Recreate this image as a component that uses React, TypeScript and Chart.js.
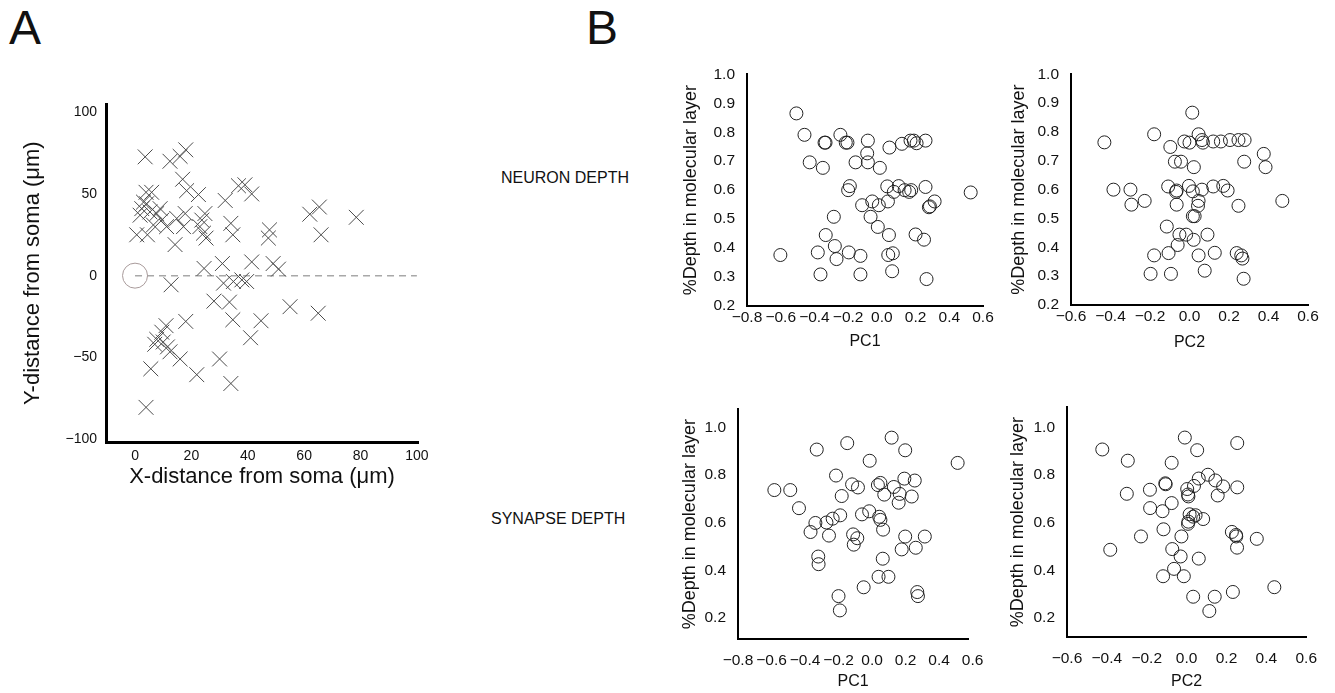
import React, { useEffect, useRef } from "react";
import { Chart, registerables } from "chart.js";

Chart.register(...registerables);

const FONT = "'Liberation Sans', Arial, Helvetica, sans-serif";

// ---------- Panel A: synapse positions relative to soma ----------
const crossX = [3.6, 12.4, 16, 18, 16.9, 18.3, 22.5, 3.9, 5.9, 3, 4.1, 2.4, 1.8, 32, 36.7, 39, 41.4, 62, 65.4, 78.5, 66, 47.7, 47.3, 34, 34.7, 0.6, 4.4, 7.7, 9.5, 11.2, 6.5, 14.8, 17.8, 17.2, 23, 24.8, 23.7, 24.3, 25.2, 14.2, 24.5, 31, 41.4, 49, 50.9, 12.8, 31.4, 34.9, 39.6, 37.9, 28, 33.5, 34.7, 44.7, 55, 65, 18, 41, 11, 9.5, 7.7, 7, 10, 11.5, 12.4, 16, 30, 21.9, 34, 5.6, 3.9, 8.9, 5.3];
const crossY = [72.7, 70, 73, 77, 59, 52, 49.6, 51, 51, 45, 44, 41, 37, 46, 55, 55.6, 50, 37.6, 42, 35.7, 25, 28, 23, 32, 25, 25, 25, 38, 34, 30, 31, 35, 38, 30, 30, 38, 34, 26, 23, 19, 4.4, 7.4, 8.4, 7.4, 4, -5.6, -4.6, -3.6, -3.6, -2.6, -15.6, -16.2, -27, -27.6, -19, -23, -28, -38, -30.6, -34.6, -39, -42, -40.6, -43.6, -46.6, -51, -51, -60.6, -66, -57, -80.6, 41, 39];
const somaX = [0];
const somaY = [0];
const midlineX = [0, 100];
const midlineY = [0, 0];
const aXTicks = [0, 20, 40, 60, 80, 100];
const aYTicks = [-100, -50, 0, 50, 100];

// ---------- Panel B: neuron depth ----------
const neuronPC1X = [-0.507, -0.459, -0.428, -0.35, -0.34, -0.334, -0.246, -0.214, -0.204, -0.083, -0.087, -0.083, -0.156, -0.012, 0.045, 0.119, 0.17, 0.19, 0.206, 0.259, -0.19, -0.2, 0.032, 0.1, 0.071, 0.135, 0.162, 0.174, 0.259, 0.527, 0.313, 0.279, 0.285, -0.057, -0.018, 0.036, -0.117, -0.285, -0.067, -0.024, 0.042, -0.333, 0.2, 0.25, -0.279, -0.269, -0.38, -0.196, -0.127, 0.038, 0.065, -0.602, -0.364, -0.127, 0.061, 0.265];
const neuronPC1Y = [0.865, 0.791, 0.696, 0.677, 0.764, 0.764, 0.791, 0.764, 0.764, 0.771, 0.727, 0.696, 0.696, 0.677, 0.747, 0.76, 0.771, 0.771, 0.762, 0.771, 0.614, 0.6, 0.613, 0.614, 0.594, 0.6, 0.594, 0.6, 0.611, 0.592, 0.561, 0.541, 0.544, 0.561, 0.548, 0.561, 0.548, 0.508, 0.508, 0.473, 0.445, 0.445, 0.447, 0.429, 0.407, 0.362, 0.385, 0.385, 0.373, 0.376, 0.382, 0.376, 0.309, 0.309, 0.32, 0.293];

const neuronPC2X = [0.014, -0.431, -0.179, -0.097, -0.026, 0, 0.046, 0.063, 0.068, 0.12, 0.159, 0.205, 0.248, 0.279, 0.376, 0.385, 0.277, -0.074, -0.043, 0.022, -0.385, -0.299, -0.227, -0.294, -0.108, -0.065, -0.068, -0.003, 0.017, 0.063, 0.12, 0.171, 0.193, -0.065, 0.046, 0.043, 0.248, 0.47, 0.017, 0.026, -0.115, -0.051, -0.017, 0.021, 0.091, -0.06, -0.179, -0.106, 0.046, 0.128, 0.239, 0.262, 0.268, -0.197, -0.094, 0.077, 0.274];
const neuronPC2Y = [0.867, 0.764, 0.792, 0.748, 0.767, 0.763, 0.792, 0.772, 0.763, 0.767, 0.767, 0.772, 0.772, 0.772, 0.724, 0.678, 0.697, 0.697, 0.697, 0.678, 0.6, 0.6, 0.561, 0.548, 0.611, 0.597, 0.592, 0.613, 0.594, 0.6, 0.611, 0.613, 0.597, 0.548, 0.561, 0.544, 0.544, 0.561, 0.508, 0.508, 0.472, 0.444, 0.444, 0.426, 0.444, 0.408, 0.372, 0.38, 0.372, 0.381, 0.38, 0.372, 0.361, 0.308, 0.308, 0.319, 0.291];

// ---------- Panel B: synapse depth ----------
const synapsePC1X = [-0.583, -0.488, -0.436, -0.33, -0.338, -0.367, -0.321, -0.319, -0.272, -0.235, -0.19, -0.257, -0.215, -0.181, -0.148, -0.119, -0.084, -0.113, -0.088, -0.109, -0.06, -0.017, -0.014, 0.035, 0.05, 0.043, 0.05, 0.066, 0.073, 0.064, 0.039, 0.098, -0.05, -0.2, -0.192, 0.117, 0.198, 0.13, 0.165, 0.159, 0.193, 0.255, 0.237, 0.198, 0.177, 0.261, 0.315, 0.27, 0.274, 0.511];
const synapsePC1Y = [0.737, 0.737, 0.661, 0.907, 0.599, 0.561, 0.458, 0.426, 0.601, 0.617, 0.631, 0.546, 0.798, 0.712, 0.934, 0.761, 0.748, 0.551, 0.535, 0.508, 0.635, 0.648, 0.86, 0.758, 0.767, 0.625, 0.612, 0.571, 0.718, 0.449, 0.373, 0.373, 0.329, 0.292, 0.232, 0.957, 0.904, 0.75, 0.721, 0.684, 0.785, 0.777, 0.71, 0.542, 0.488, 0.495, 0.542, 0.309, 0.292, 0.851];

const synapsePC2X = [-0.423, -0.295, -0.3, -0.383, -0.184, -0.183, -0.229, -0.121, -0.116, -0.107, -0.105, -0.075, -0.075, -0.072, -0.063, -0.118, -0.03, -0.026, -0.014, -0.009, 0.053, 0.003, 0.007, 0.009, 0.037, 0.061, 0.107, 0.144, 0.183, 0.156, 0.015, 0.033, 0.045, 0.009, 0.007, 0.083, 0.061, 0.033, 0.141, 0.114, 0.232, 0.254, 0.254, 0.227, 0.248, 0.249, 0.253, 0.352, 0.44];
const synapsePC2Y = [0.907, 0.86, 0.721, 0.486, 0.738, 0.661, 0.542, 0.648, 0.572, 0.765, 0.761, 0.851, 0.682, 0.489, 0.406, 0.375, 0.458, 0.542, 0.375, 0.957, 0.904, 0.741, 0.718, 0.71, 0.754, 0.785, 0.801, 0.777, 0.752, 0.714, 0.635, 0.625, 0.631, 0.604, 0.595, 0.615, 0.449, 0.289, 0.289, 0.229, 0.309, 0.934, 0.748, 0.561, 0.548, 0.542, 0.495, 0.532, 0.329];

const pc1Ticks = [-0.8, -0.6, -0.4, -0.2, 0, 0.2, 0.4, 0.6];
const pc2Ticks = [-0.6, -0.4, -0.2, 0, 0.2, 0.4, 0.6];
const depthTicksTop = [0.2, 0.3, 0.4, 0.5, 0.6, 0.7, 0.8, 0.9, 1.0];
const depthTicksBottom = [0.2, 0.4, 0.6, 0.8, 1.0];

const Y_TITLE_B = "%Depth in molecular layer";

// ---------- helpers ----------
const fmtDec = (v: number) => (v < -1e-9 ? "\u2212" : "") + Math.abs(v).toFixed(1);
const fmtInt = (v: number) => (v < 0 ? "\u2212" : "") + String(Math.abs(Math.round(v)));

const toPts = (xs: number[], ys: number[]) => xs.map((x, i) => ({ x, y: ys[i] }));

interface Area {
  L: number; T: number; R: number; B: number;
  CL: number; CB: number; padTop: number; padRight: number;
}

const boxOf = (a: Area) => ({
  x: a.CL,
  y: a.T - a.padTop,
  w: a.R + a.padRight - a.CL,
  h: a.CB - (a.T - a.padTop),
});

interface ScaleOpts {
  pos: "left" | "bottom";
  min: number; max: number;
  ticks: number[];
  fmt: (v: number) => string;
  size: number;
  tickPad: number;
  tickSize: number;
  title: string;
  titleSize: number;
  titlePad: number;
  borderW: number;
}

function makeScale(o: ScaleOpts) {
  return {
    type: "linear",
    position: o.pos,
    min: o.min,
    max: o.max,
    afterBuildTicks: (s: any) => {
      s.ticks = o.ticks.map((v) => ({ value: v }));
    },
    afterFit: (s: any) => {
      if (o.pos === "left") s.width = o.size;
      else s.height = o.size;
    },
    grid: { display: false, drawTicks: false },
    border: { display: true, color: "#000", width: o.borderW },
    ticks: {
      autoSkip: false,
      maxRotation: 0,
      minRotation: 0,
      padding: o.tickPad,
      color: "#111",
      font: { family: FONT, size: o.tickSize },
      callback: (v: any) => o.fmt(Number(v)),
    },
    title: {
      display: true,
      text: o.title,
      color: "#111",
      font: { family: FONT, size: o.titleSize },
      padding: o.pos === "left" ? { top: Math.max(0, o.titlePad), bottom: 0 } : { top: 0, bottom: Math.max(0, o.titlePad) },
    },
  };
}

function baseOptions(area: Area, x: any, y: any) {
  return {
    responsive: false,
    animation: false,
    events: [],
    layout: { padding: { top: area.padTop, right: area.padRight, left: 0, bottom: 0 } },
    plugins: { legend: { display: false }, tooltip: { enabled: false }, title: { display: false } },
    scales: { x, y },
  };
}

function circleDataset(xs: number[], ys: number[]) {
  return {
    data: toPts(xs, ys),
    pointStyle: "circle",
    pointRadius: 6.5,
    pointBorderWidth: 1,
    pointBorderColor: "#222",
    pointBackgroundColor: "rgba(0,0,0,0)",
    showLine: false,
    clip: false,
  };
}

// ---------- layout of the panels ----------
const areaA: Area = { L: 106, T: 97, R: 418, B: 442, CL: 10, CB: 500, padTop: 10, padRight: 22 };
const areaB1: Area = { L: 747, T: 63, R: 983, B: 306, CL: 675, CB: 358, padTop: 10, padRight: 18 };
const areaB2: Area = { L: 1071, T: 63, R: 1308, B: 305, CL: 1003, CB: 358, padTop: 10, padRight: 22 };
const areaB3: Area = { L: 738, T: 398, R: 977, B: 639, CL: 675, CB: 692, padTop: 10, padRight: 18 };
const areaB4: Area = { L: 1067, T: 396, R: 1307, B: 637, CL: 1003, CB: 692, padTop: 10, padRight: 22 };

function configA() {
  const a = areaA;
  const x = makeScale({
    pos: "bottom", min: -10.3, max: 100.4, ticks: aXTicks, fmt: fmtInt,
    size: a.CB - a.B, tickPad: 6, tickSize: 14,
    title: "X-distance from soma (\u03bcm)", titleSize: 22, titlePad: (a.CB - 477) - 13.2, borderW: 3,
  });
  const y = makeScale({
    pos: "left", min: -101.8, max: 104.8, ticks: aYTicks, fmt: fmtInt,
    size: a.L - a.CL, tickPad: 9, tickSize: 14,
    title: "Y-distance from soma (\u03bcm)", titleSize: 22, titlePad: (33 - a.CL) - 13.2, borderW: 3,
  });
  return {
    type: "scatter",
    data: {
      datasets: [
        {
          data: toPts(crossX, crossY),
          pointStyle: "crossRot",
          pointRadius: 10.5,
          pointBorderWidth: 1,
          pointBorderColor: "#4a4a4a",
          pointBackgroundColor: "rgba(0,0,0,0)",
          showLine: false,
          clip: false,
          order: 1,
        },
        {
          data: toPts(midlineX, midlineY),
          showLine: true,
          borderColor: "#a8a8a8",
          borderWidth: 1.5,
          borderDash: [7, 5],
          pointRadius: 0,
          clip: false,
          order: 3,
        },
        {
          data: toPts(somaX, somaY),
          pointStyle: "circle",
          pointRadius: 12.5,
          pointBorderWidth: 1,
          pointBorderColor: "#a89a9a",
          pointBackgroundColor: "rgba(0,0,0,0)",
          showLine: false,
          clip: false,
          order: 2,
        },
      ],
    },
    options: baseOptions(a, x, y),
  };
}

interface BSpec {
  area: Area; xs: number[]; ys: number[]; xTitle: string;
  xMin: number; xMax: number; xTicks: number[];
  yMin: number; yMax: number; yTicks: number[];
  xTickPad: number; xTitleCenter: number; yTitleCenter: number;
}

function configB(s: BSpec) {
  const a = s.area;
  const x = makeScale({
    pos: "bottom", min: s.xMin, max: s.xMax, ticks: s.xTicks, fmt: fmtDec,
    size: a.CB - a.B, tickPad: s.xTickPad, tickSize: 15.5,
    title: s.xTitle, titleSize: 16, titlePad: (a.CB - s.xTitleCenter) - 9.6, borderW: 2,
  });
  const y = makeScale({
    pos: "left", min: s.yMin, max: s.yMax, ticks: s.yTicks, fmt: fmtDec,
    size: a.L - a.CL, tickPad: 12, tickSize: 15.5,
    title: Y_TITLE_B, titleSize: 18, titlePad: (s.yTitleCenter - a.CL) - 10.8, borderW: 2,
  });
  return {
    type: "scatter",
    data: { datasets: [circleDataset(s.xs, s.ys)] },
    options: baseOptions(a, x, y),
  };
}

function ChartBox({ area, make }: { area: Area; make: () => any }) {
  const ref = useRef<HTMLCanvasElement | null>(null);
  const b = boxOf(area);
  useEffect(() => {
    if (!ref.current) return;
    const chart = new Chart(ref.current, make());
    return () => chart.destroy();
  }, []);
  return (
    <canvas
      ref={ref}
      width={b.w}
      height={b.h}
      style={{ position: "absolute", left: b.x, top: b.y, width: b.w, height: b.h }}
    />
  );
}

const textBase: React.CSSProperties = {
  position: "absolute",
  fontFamily: FONT,
  color: "#111",
  whiteSpace: "nowrap",
};

export default function App() {
  return (
    <div style={{ position: "absolute", left: 0, top: 0, width: 1335, height: 693, background: "#fff", overflow: "hidden" }}>
      <div style={{ ...textBase, left: 9, top: 4, fontSize: 48, lineHeight: "48px" }}>A</div>
      <div style={{ ...textBase, left: 586, top: 4, fontSize: 48, lineHeight: "48px" }}>B</div>
      <div style={{ ...textBase, left: 501, top: 170, fontSize: 16, lineHeight: "16px" }}>NEURON DEPTH</div>
      <div style={{ ...textBase, left: 491, top: 511, fontSize: 16, lineHeight: "16px" }}>SYNAPSE DEPTH</div>

      <ChartBox area={areaA} make={configA} />
      <ChartBox
        area={areaB1}
        make={() => configB({
          area: areaB1, xs: neuronPC1X, ys: neuronPC1Y, xTitle: "PC1",
          xMin: -0.8, xMax: 0.6, xTicks: pc1Ticks, yMin: 0.2, yMax: 1.0, yTicks: depthTicksTop,
          xTickPad: 2, xTitleCenter: 342, yTitleCenter: 691,
        })}
      />
      <ChartBox
        area={areaB2}
        make={() => configB({
          area: areaB2, xs: neuronPC2X, ys: neuronPC2Y, xTitle: "PC2",
          xMin: -0.6, xMax: 0.6, xTicks: pc2Ticks, yMin: 0.2, yMax: 1.0, yTicks: depthTicksTop,
          xTickPad: 2, xTitleCenter: 343, yTitleCenter: 1019,
        })}
      />
      <ChartBox
        area={areaB3}
        make={() => configB({
          area: areaB3, xs: synapsePC1X, ys: synapsePC1Y, xTitle: "PC1",
          xMin: -0.8, xMax: 0.575, xTicks: pc1Ticks, yMin: 0.112, yMax: 1.076, yTicks: depthTicksBottom,
          xTickPad: 12, xTitleCenter: 682, yTitleCenter: 690,
        })}
      />
      <ChartBox
        area={areaB4}
        make={() => configB({
          area: areaB4, xs: synapsePC2X, ys: synapsePC2Y, xTitle: "PC2",
          xMin: -0.6, xMax: 0.6, xTicks: pc2Ticks, yMin: 0.12, yMax: 1.084, yTicks: depthTicksBottom,
          xTickPad: 12, xTitleCenter: 682, yTitleCenter: 1018,
        })}
      />
    </div>
  );
}
